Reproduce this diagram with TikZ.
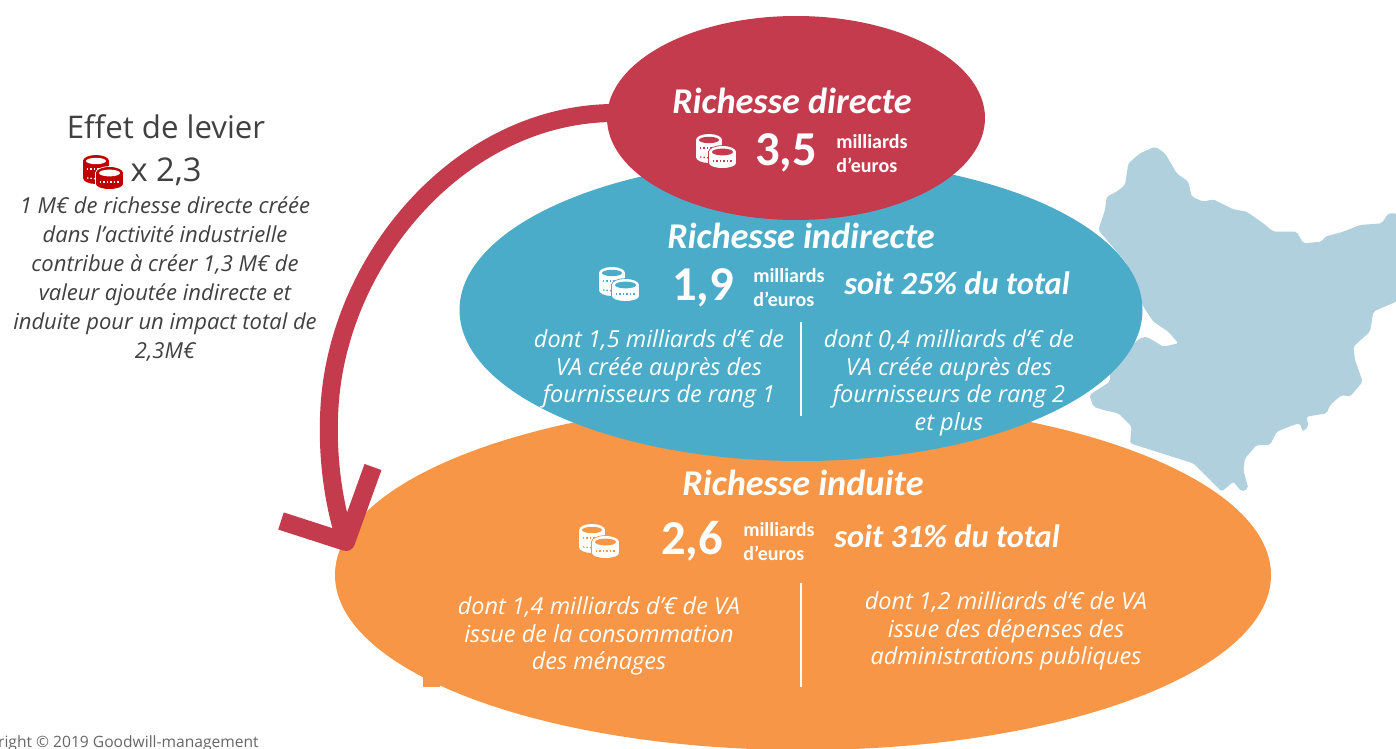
\documentclass[tikz,border=0pt]{standalone}
\usepackage{fontspec}
\usetikzlibrary{shapes.geometric}
\setmainfont{Open Sans}
\newfontfamily\lightf{Open Sans}
\newfontfamily\boldf{Carlito}
\definecolor{redc}{HTML}{C43B4E}
\definecolor{bluec}{HTML}{4AACC8}
\definecolor{orangec}{HTML}{F79646}
\definecolor{mapc}{HTML}{AFD0DC}
\definecolor{darkt}{HTML}{404040}
\definecolor{coinred}{HTML}{C00000}
\newcommand{\fs}[2]{\fontsize{#1}{#2}\selectfont}
\newcommand{\coinicon}[4]{%
 \begin{scope}[shift={(#1,#2)}]
  \fill[#3] (1,7) rectangle (27,24);
  \fill[#3] (14,7) ellipse [x radius=13,y radius=6];
  \fill[#3] (14,24) ellipse [x radius=13,y radius=6];
  \fill[#4] (14,7) ellipse [x radius=10,y radius=3.2];
  \draw[#4,line width=1pt,dash pattern=on 1pt off 1.6pt] (5,15) -- (25,15);
  \draw[#4,line width=1pt,dash pattern=on 1pt off 1.6pt] (5,24) -- (16,25);
  \draw[#4,line width=1.2pt,fill=#3] (14,19) -- (14,30) arc[start angle=180,end angle=360,x radius=13.5,y radius=5] -- (41,19) arc[start angle=0,end angle=360,x radius=13.5,y radius=6] -- cycle;
  \fill[#3] (14,19) rectangle (41,30);
  \fill[#3] (27.5,30) ellipse [x radius=13.5,y radius=5];
  \fill[#3] (27.5,19) ellipse [x radius=13.5,y radius=6];
  \fill[#4] (27.5,19) ellipse [x radius=10.5,y radius=3.4];
  \draw[#4,line width=1pt,dash pattern=on 1pt off 1.6pt] (18,28) -- (38,28);
 \end{scope}}
\tikzset{
  x=0.75pt,y=-0.75pt,
  disc/.style={shape=ellipse,inner sep=0pt,outer sep=0pt,fill=#1},
  titlet/.style={text=white,font=\boldf\bfseries\itshape\fs{27.2}{30}},
  numt/.style={text=white,font=\boldf\bfseries\fs{36.5}{40}},
  unitt/.style={text=white,font=\boldf\bfseries\fs{15}{18},align=left,anchor=west,inner sep=0pt},
  sharet/.style={text=white,font=\boldf\bfseries\itshape\fs{24.3}{26}},
  bodyt/.style={text=white,font=\lightf\itshape\fs{17.6}{20.6},align=center,inner sep=0pt},
  leftt/.style={text=darkt,font=\lightf\itshape\fs{16.5}{21.7},align=center,inner sep=0pt},
  arrowl/.style={draw=redc,line width=13.5pt},
  headl/.style={draw=redc,line width=13.5pt,line join=round},
  sepl/.style={draw=white,line width=2.2pt},
}
\begin{document}
\begin{tikzpicture}
\useasboundingbox (0,0) rectangle (1396,749);
\clip (0,0) rectangle (1396,749);
\fill[white] (0,0) rectangle (1396,749);
% map
\begin{scope}[shift={(1060,130)},x=0.25pt,y=-0.25pt]
\fill[mapc,rounded corners=1.5pt] (115,300) -- (135,240) -- (140,200) -- (170,185) -- (195,165) -- (205,100) -- (240,70) -- (285,50) -- (315,70) -- (350,130) -- (385,155) -- (395,200) -- (430,215) -- (460,208) -- (520,238) -- (560,245) -- (610,280) -- (640,305) -- (710,305) -- (730,340) -- (785,335) -- (795,320) -- (850,305) -- (900,285) -- (965,280) -- (985,250) -- (1010,250) -- (1010,515) -- (985,525) -- (940,545) -- (930,605) -- (880,650) -- (885,690) -- (908,755) -- (870,800) -- (845,795) -- (810,825) -- (800,850) -- (740,860) -- (745,890) -- (728,905) -- (720,880) -- (700,885) -- (650,905) -- (630,945) -- (590,945) -- (555,985) -- (550,1020) -- (565,1075) -- (545,1085) -- (520,1055) -- (485,1085) -- (400,1000) -- (210,940) -- (215,890) -- (175,850) -- (130,840) -- (100,830) -- (88,795) -- (150,755) -- (150,700) -- (240,625) -- (260,620) -- (310,650) -- (355,640) -- (325,605) -- (280,575) -- (250,530) -- (200,400) -- cycle;
\end{scope}
% discs
\node[disc=orangec,minimum width=702pt,minimum height=262.5pt] (induite) at (803,575) {};
\fill[orangec] (423,655) rectangle (440,687);
\node[disc=bluec,minimum width=512.25pt,minimum height=226.5pt] (indirecte) at (801,310) {};
\node[disc=redc,minimum width=283.5pt,minimum height=153pt] (directe) at (796,118) {};
% arrow
\coordinate (arrowstart) at (612,113);
\coordinate (arrowmid) at (330,400);
\coordinate (arrowtip) at (346,542);
\coordinate (headleft) at (281,521);
\coordinate (headright) at (373,467);
\draw[arrowl] (arrowstart) .. controls (462,115) and (342,255) .. (arrowmid) .. controls (326,448) and (332,500) .. (arrowtip);
\draw[headl] (headleft) -- (arrowtip) -- (headright);
% left text
\node[text=darkt,font=\lightf\fs{23.4}{28},inner sep=0pt] (effet) at (166,127) {Effet de levier};
\coinicon{82}{154}{coinred}{white}
\node[text=darkt,font=\lightf\fs{24.5}{28},inner sep=0pt] (fois) at (166,172) {x 2,3};
\node[leftt] (expl) at (165,279) {1 M€ de richesse directe créée\\dans l’activité industrielle\\contribue à créer 1,3 M€ de\\valeur ajoutée indirecte et\\induite pour un impact total de\\2,3M€};
% direct
\node[titlet] (t1) at (792,101) {Richesse directe};
\coinicon{695}{133}{white}{redc}
\node[numt] (n1) at (786,153) {3,5};
\node[unitt] (u1) at (836,154) {milliards\\d’euros};
% indirect
\node[titlet] (t2) at (801,236) {Richesse indirecte};
\coinicon{598}{266}{white}{bluec}
\node[numt] (n2) at (703,288) {1,9};
\node[unitt] (u2) at (753,288) {milliards\\d’euros};
\node[sharet] (s2) at (957,283) {soit 25\% du total};
\node[bodyt] (b2l) at (659,369) {dont 1,5 milliards d’€ de\\VA créée auprès des\\fournisseurs de rang 1};
\node[bodyt] (b2r) at (949,383) {dont 0,4 milliards d’€ de\\VA créée auprès des\\fournisseurs de rang 2\\et plus};
\coordinate (sep2a) at (801,322);
\coordinate (sep2b) at (801,416);
\draw[sepl] (sep2a) -- (sep2b);
% induced
\node[titlet] (t3) at (803,483) {Richesse induite};
\coinicon{578}{523}{white}{orangec}
\node[numt] (n3) at (692,541) {2,6};
\node[unitt] (u3) at (743,542) {milliards\\d’euros};
\node[sharet] (s3) at (947,536) {soit 31\% du total};
\node[bodyt] (b3l) at (599,636) {dont 1,4 milliards d’€ de VA\\issue de la consommation\\des ménages};
\node[bodyt] (b3r) at (1006,631) {dont 1,2 milliards d’€ de VA\\issue  des dépenses des\\administrations publiques};
\coordinate (sep3a) at (801,583);
\coordinate (sep3b) at (801,687);
\draw[sepl] (sep3a) -- (sep3b);
% copyright
\node[anchor=east,text=darkt!80,font=\lightf\fs{11.7}{12},inner sep=0pt] (copy) at (259,743) {right © 2019 Goodwill-management};
\end{tikzpicture}
\end{document}
